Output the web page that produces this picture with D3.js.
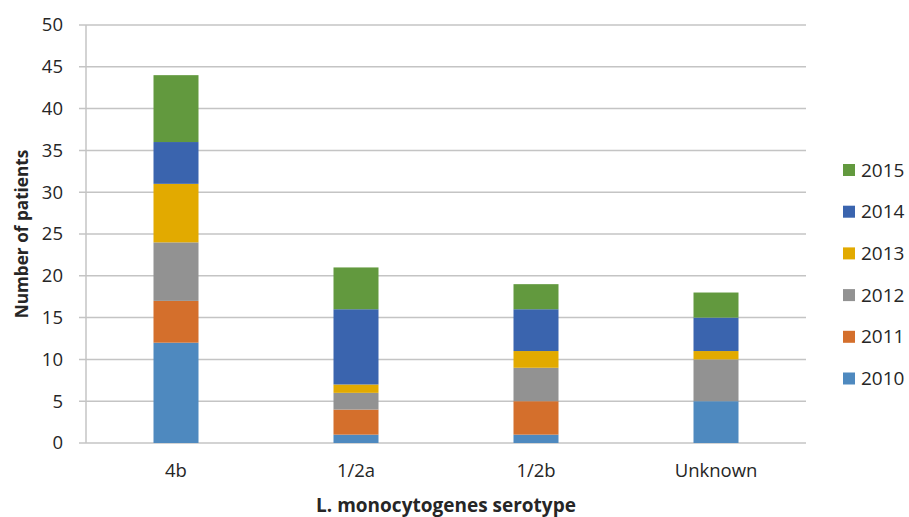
<!DOCTYPE html>
<html>
<head>
<meta charset="utf-8">
<script src="https://cdn.jsdelivr.net/npm/d3@7"></script>
<style>
  html, body { margin: 0; padding: 0; background: #fff; }
  svg { display: block; font-family: "Open Sans", "Liberation Sans", sans-serif; }
</style>
</head>
<body>
<svg id="chart" width="909" height="517"></svg>
<script>
// Serotypes on the x axis, years as stacked series
const serotypes = ["4b", "1/2a", "1/2b", "Unknown"];
const years = ["2010", "2011", "2012", "2013", "2014", "2015"];
const cases2010 = [12, 1, 1, 5];
const cases2011 = [5, 3, 4, 0];
const cases2012 = [7, 2, 4, 5];
const cases2013 = [7, 1, 2, 1];
const cases2014 = [5, 9, 5, 4];
const cases2015 = [8, 5, 3, 3];
const yTicks = [0, 5, 10, 15, 20, 25, 30, 35, 40, 45, 50];
const yearColors = ["#4e89bf", "#d46f2c", "#929292", "#e2aa00", "#3a64ae", "#62993e"];

const seriesValues = [cases2010, cases2011, cases2012, cases2013, cases2014, cases2015];
const rows = serotypes.map((s, i) => {
  const r = { serotype: s };
  years.forEach((y, j) => { r[y] = seriesValues[j][i]; });
  return r;
});

const svg = d3.select("#chart");
const margin = { left: 86, right: 103, top: 25, bottom: 74 };
const W = 909, H = 517;
const labelSize = 18.5;

const x = d3.scaleBand().domain(serotypes)
  .range([margin.left, W - margin.right]).paddingInner(0.75).paddingOuter(0.375);
const y = d3.scaleLinear().domain([0, 50]).range([H - margin.bottom, margin.top]);
const color = d3.scaleOrdinal().domain(years).range(yearColors);

// gridlines
svg.append("g")
  .selectAll("line").data(yTicks).join("line")
  .attr("x1", margin.left - 7).attr("x2", W - margin.right)
  .attr("y1", d => y(d)).attr("y2", d => y(d))
  .attr("stroke", "#c4c4c4").attr("stroke-width", 1.5);

// vertical axis line
svg.append("line")
  .attr("x1", margin.left).attr("x2", margin.left)
  .attr("y1", y(50)).attr("y2", y(0))
  .attr("stroke", "#c4c4c4").attr("stroke-width", 1.5);

// y axis labels
const yAxis = d3.axisLeft(y).tickValues(yTicks).tickSize(0).tickPadding(23);
const gy = svg.append("g").attr("transform", `translate(${margin.left},0)`).call(yAxis);
gy.select(".domain").remove();
gy.selectAll("text").attr("font-size", labelSize).attr("fill", "#262626")
  .attr("font-family", "'Open Sans', sans-serif");

// stacked bars
const stack = d3.stack().keys(years)(rows);
svg.append("g").selectAll("g").data(stack).join("g")
  .attr("fill", d => color(d.key))
  .selectAll("rect").data(d => d).join("rect")
  .attr("x", d => x(d.data.serotype))
  .attr("width", x.bandwidth())
  .attr("y", d => y(d[1]))
  .attr("height", d => y(d[0]) - y(d[1]));

// x axis labels
const xAxis = d3.axisBottom(x).tickSize(0).tickPadding(21);
const gx = svg.append("g").attr("transform", `translate(0,${y(0)})`).call(xAxis);
gx.select(".domain").remove();
gx.selectAll("text").attr("font-size", labelSize).attr("fill", "#262626")
  .attr("font-family", "'Open Sans', sans-serif");

// axis titles
svg.append("text")
  .attr("x", 446).attr("y", 512)
  .attr("text-anchor", "middle").attr("font-size", 19).attr("font-weight", "bold")
  .attr("fill", "#262626").text("L. monocytogenes serotype");

svg.append("text")
  .attr("transform", `translate(28,${y(25)}) rotate(-90)`)
  .attr("text-anchor", "middle").attr("font-size", 17.2).attr("font-weight", "bold")
  .attr("fill", "#262626").text("Number of patients");

// legend, newest year on top
const legendYears = years.slice().reverse();
const lg = svg.append("g").selectAll("g").data(legendYears).join("g")
  .attr("transform", (d, i) => `translate(843,${170 + i * 41.7})`);
lg.append("rect").attr("x", 0).attr("y", -6).attr("width", 12).attr("height", 12)
  .attr("fill", d => color(d));
lg.append("text").attr("x", 18).attr("y", 0).attr("dy", "0.35em")
  .attr("font-size", 19).attr("fill", "#262626").text(d => d);
</script>
</body>
</html>
